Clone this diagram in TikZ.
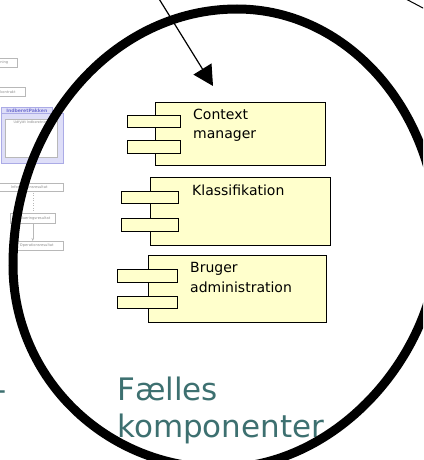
\documentclass[tikz,border=0pt]{standalone}
\usepackage{fontspec}
\setmainfont{DejaVu Sans}
\usetikzlibrary{arrows.meta}

\definecolor{compyellow}{HTML}{FFFFCC}
\definecolor{titleteal}{HTML}{3D7070}
\definecolor{fadegray}{HTML}{B8B8B8}
\definecolor{fadetext}{HTML}{8C8C8C}
\definecolor{pakfill}{HTML}{DEDEF8}
\definecolor{pakline}{HTML}{ABABE6}
\definecolor{paktext}{HTML}{7474D2}

\tikzset{
    compbox/.style={draw, fill=compyellow, line width=0.8pt, inner sep=0pt, anchor=north west},
    complabel/.style={inner sep=0pt, anchor=north west, align=left, font=\fontsize{14}{19.5}\selectfont},
    fadebox/.style={draw=fadegray, fill=white, line width=0.5pt, inner sep=0pt, anchor=north west,
        text=fadetext, font=\fontsize{3.6}{4}\selectfont},
    pakbox/.style={draw=pakline, fill=pakfill, line width=0.6pt, inner sep=0pt, anchor=north west},
    titletext/.style={inner sep=0pt, anchor=north west, align=left, text=titleteal,
        font=\fontsize{31}{37}\selectfont}
}

\begin{document}
\begin{tikzpicture}[x=1pt, y=-1pt]
            \useasboundingbox (0, 0) rectangle (423, 460);
            \clip (0, 0) rectangle (423, 460);

            %%faded diagram behind
            \node[fadebox, minimum width=40pt, minimum height=9pt, anchor=north east] (fone) at (17, 58) {Indberetning};
            \node[fadebox, minimum width=44pt, minimum height=9pt, anchor=north east] (ftwo) at (25, 87) {Aftalekontrakt};
            \node[pakbox, minimum width=62pt, minimum height=50pt] (pak) at (1, 113) {};
                \node[pakbox, minimum width=51pt, minimum height=6pt, text=paktext,
                    font=\fontsize{4.6}{5}\bfseries\selectfont] (paktab) at (1, 107) {IndberetPakken};
                \node[fadebox, minimum width=52pt, minimum height=38pt] (pakinner) at (5, 119) {};
                \node[inner sep=0pt, anchor=north, text=fadetext, font=\fontsize{3.4}{4}\selectfont]
                    (pakinnerlabel) at ([yshift=-2pt]pakinner.north) {Udfyldt Indberetning};
            \node[fadebox, minimum width=68pt, minimum height=8pt] (fa) at (-5, 183) {Informationsresultat};
            \node[fadebox, minimum width=45pt, minimum height=10pt] (fb) at (10, 213) {Evalueringsresultat};
            \node[fadebox, minimum width=53pt, minimum height=9pt] (fc) at (10, 241) {Operationsresultat};
                \draw[fadegray, line width=0.5pt, dotted] (fb.north) -- (fb.north |- fa.south);
                \draw[fadegray, line width=0.5pt, -{Stealth[length=3pt, width=2.5pt]}] (fb.south) -- (fb.south |- fc.north);

            %%title
            \node[titletext] (title) at (117, 376.5) {Fælles\\komponenter};
            \node[titletext, anchor=base east] (titledash) at (6.6, 400) {-};

            %%ring
            \coordinate (ringtop) at (237, 9);
            \coordinate (ringright) at (438, 240);
            \coordinate (ringbottom) at (220, 468);
            \coordinate (ringleft) at (13, 265);
            \draw[line width=9pt] (ringtop) .. controls (348, 9) and (438, 112) .. (ringright)
                .. controls (438, 350) and (340, 468) .. (ringbottom)
                .. controls (106, 468) and (13, 378) .. (ringleft)
                .. controls (13, 124) and (113, 9) .. (ringtop) -- cycle;

            %%components
            \node[compbox, minimum width=170pt, minimum height=63pt] (ctx) at (155, 102) {};
                \node[compbox, minimum width=53pt, minimum height=12pt] (ctxtaba) at (127, 115) {};
                \node[compbox, minimum width=53pt, minimum height=13pt] (ctxtabb) at (127, 140) {};
                \node[complabel] (ctxlabel) at (193, 108.5) {Context\\manager};

            \node[compbox, minimum width=180pt, minimum height=68pt] (klas) at (150, 177) {};
                \node[compbox, minimum width=57pt, minimum height=12pt] (klastaba) at (121, 191) {};
                \node[compbox, minimum width=57pt, minimum height=13pt] (klastabb) at (121, 218) {};
                \node[complabel] (klaslabel) at (192, 184.4) {Klassifikation};

            \node[compbox, minimum width=178pt, minimum height=67pt] (brug) at (148, 255) {};
                \node[compbox, minimum width=60pt, minimum height=13pt] (brugtaba) at (117, 269) {};
                \node[compbox, minimum width=60pt, minimum height=12pt] (brugtabb) at (117, 296) {};
                \node[complabel] (bruglabel) at (190, 262.4) {Bruger\\administration};

            %%pointers
            \coordinate (arrowfrom) at (156, -6);
            \coordinate (arrowto) at (213, 86);
            \draw[line width=1.2pt, -{Triangle[length=20pt, width=21pt]}] (arrowfrom) -- (arrowto);
            \coordinate (linefrom) at (404, -2);
            \coordinate (lineto) at (440, 17);
            \draw[line width=1pt] (linefrom) -- (lineto);
\end{tikzpicture}
\end{document}
